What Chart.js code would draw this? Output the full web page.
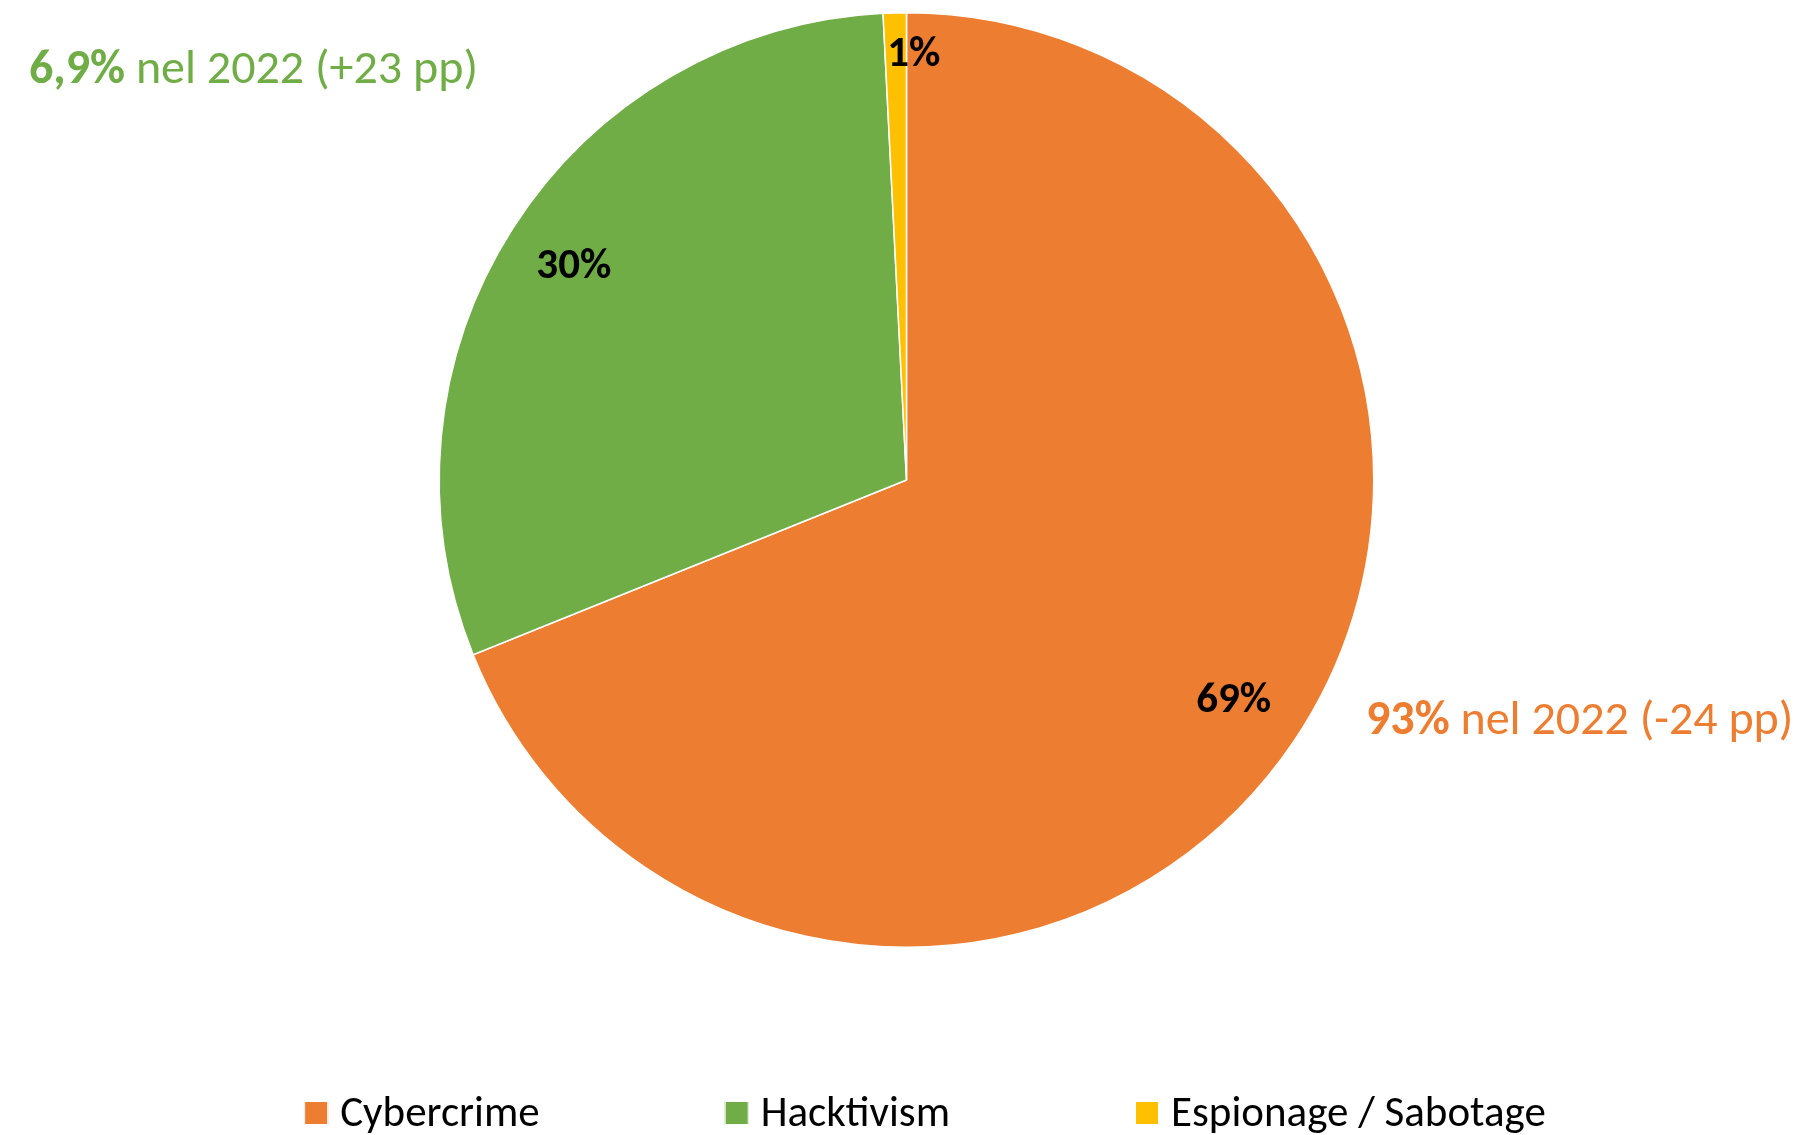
<!DOCTYPE html>
<html>
<head>
<meta charset="utf-8">
<script src="https://cdn.jsdelivr.net/npm/chart.js@4/dist/chart.umd.min.js"></script>
<style>
  html, body { margin: 0; padding: 0; background: #fff; }
  #wrap { width: 1803px; height: 1135px; }
</style>
</head>
<body>
<div id="wrap"><canvas id="myChart" width="1803" height="1135"></canvas></div>
<script>
const FONT = 'Carlito, "Liberation Sans Narrow", "Open Sans", sans-serif';

const categories = ['Cybercrime', 'Hacktivism', 'Espionage / Sabotage'];
const shares2023 = [68.9, 30.3, 0.8];
const sliceColors = ['#ED7D31', '#70AD47', '#FFC000'];

// notes on the change from 2022: [category index, share 2022 text, rest]
const notes = [
  [1, '6,9%', ' nel 2022 (+23 pp)'],
  [0, '93%', ' nel 2022 (-24 pp)']
];

// percent labels inside the slices
const sliceLabels = {
  id: 'sliceLabels',
  afterDatasetsDraw(chart) {
    const ctx = chart.ctx;
    const meta = chart.getDatasetMeta(0);
    const total = shares2023.reduce((a, b) => a + b, 0);
    ctx.save();
    ctx.font = 'bold 43px ' + FONT;
    ctx.fillStyle = '#000';
    ctx.textAlign = 'center';
    ctx.textBaseline = 'middle';
    meta.data.forEach((arc, i) => {
      const p = arc.getProps(['x', 'y', 'startAngle', 'endAngle', 'outerRadius'], true);
      const mid = (p.startAngle + p.endAngle) / 2;
      const small = shares2023[i] < 5;
      const r = p.outerRadius * (small ? 0.91 : 0.845);
      let x = p.x + Math.cos(mid) * r;
      const y = p.y + Math.sin(mid) * r;
      if (small) x += 18;
      ctx.fillText(Math.round(shares2023[i] / total * 100) + '%', x, y);
    });
    ctx.restore();
  }
};

const noteLabels = {
  id: 'noteLabels',
  afterDraw(chart) {
    const ctx = chart.ctx;
    const spots = [[29, 71], [1366, 722]];
    ctx.save();
    ctx.textBaseline = 'middle';
    ctx.textAlign = 'left';
    notes.forEach((n, k) => {
      const [x, y] = spots[k];
      ctx.fillStyle = sliceColors[n[0]];
      ctx.font = 'bold 48px ' + FONT;
      ctx.fillText(n[1], x, y);
      const w = ctx.measureText(n[1]).width;
      ctx.font = '48px ' + FONT;
      ctx.fillText(n[2], x + w, y);
    });
    ctx.restore();
  }
};

// legend drawn in one row under the pie, spaced like the original
const bottomLegend = {
  id: 'bottomLegend',
  afterDraw(chart) {
    const ctx = chart.ctx;
    const box = 24, gap = 12, spacing = 185, y = 1113;
    ctx.save();
    ctx.font = '43px ' + FONT;
    ctx.textBaseline = 'middle';
    ctx.textAlign = 'left';
    const widths = categories.map(c => ctx.measureText(c).width);
    const total = widths.reduce((a, b) => a + b, 0) + categories.length * (box + gap) + spacing * (categories.length - 1);
    let x = 925 - total / 2;
    categories.forEach((c, i) => {
      ctx.fillStyle = sliceColors[i];
      ctx.fillRect(x, y - box / 2, box, box);
      ctx.strokeStyle = '#ffffff';
      ctx.lineWidth = 1;
      ctx.strokeRect(x + 0.5, y - box / 2 + 0.5, box - 1, box - 1);
      ctx.fillStyle = '#000';
      ctx.fillText(c, x + box + gap, y + 2);
      x += box + gap + widths[i] + spacing;
    });
    ctx.restore();
  }
};

const ctx = document.getElementById('myChart').getContext('2d');
const myChart = new Chart(ctx, {
  type: 'pie',
  data: {
    labels: categories,
    datasets: [{
      data: shares2023,
      backgroundColor: sliceColors,
      borderColor: '#ffffff',
      borderWidth: 1.5
    }]
  },
  options: {
    responsive: false,
    animation: false,
    layout: { padding: { top: 12, bottom: 187, left: 10, right: 0 } },
    plugins: {
      tooltip: { enabled: false },
      legend: { display: false }
    }
  },
  plugins: [sliceLabels, noteLabels, bottomLegend]
});
</script>
</body>
</html>
